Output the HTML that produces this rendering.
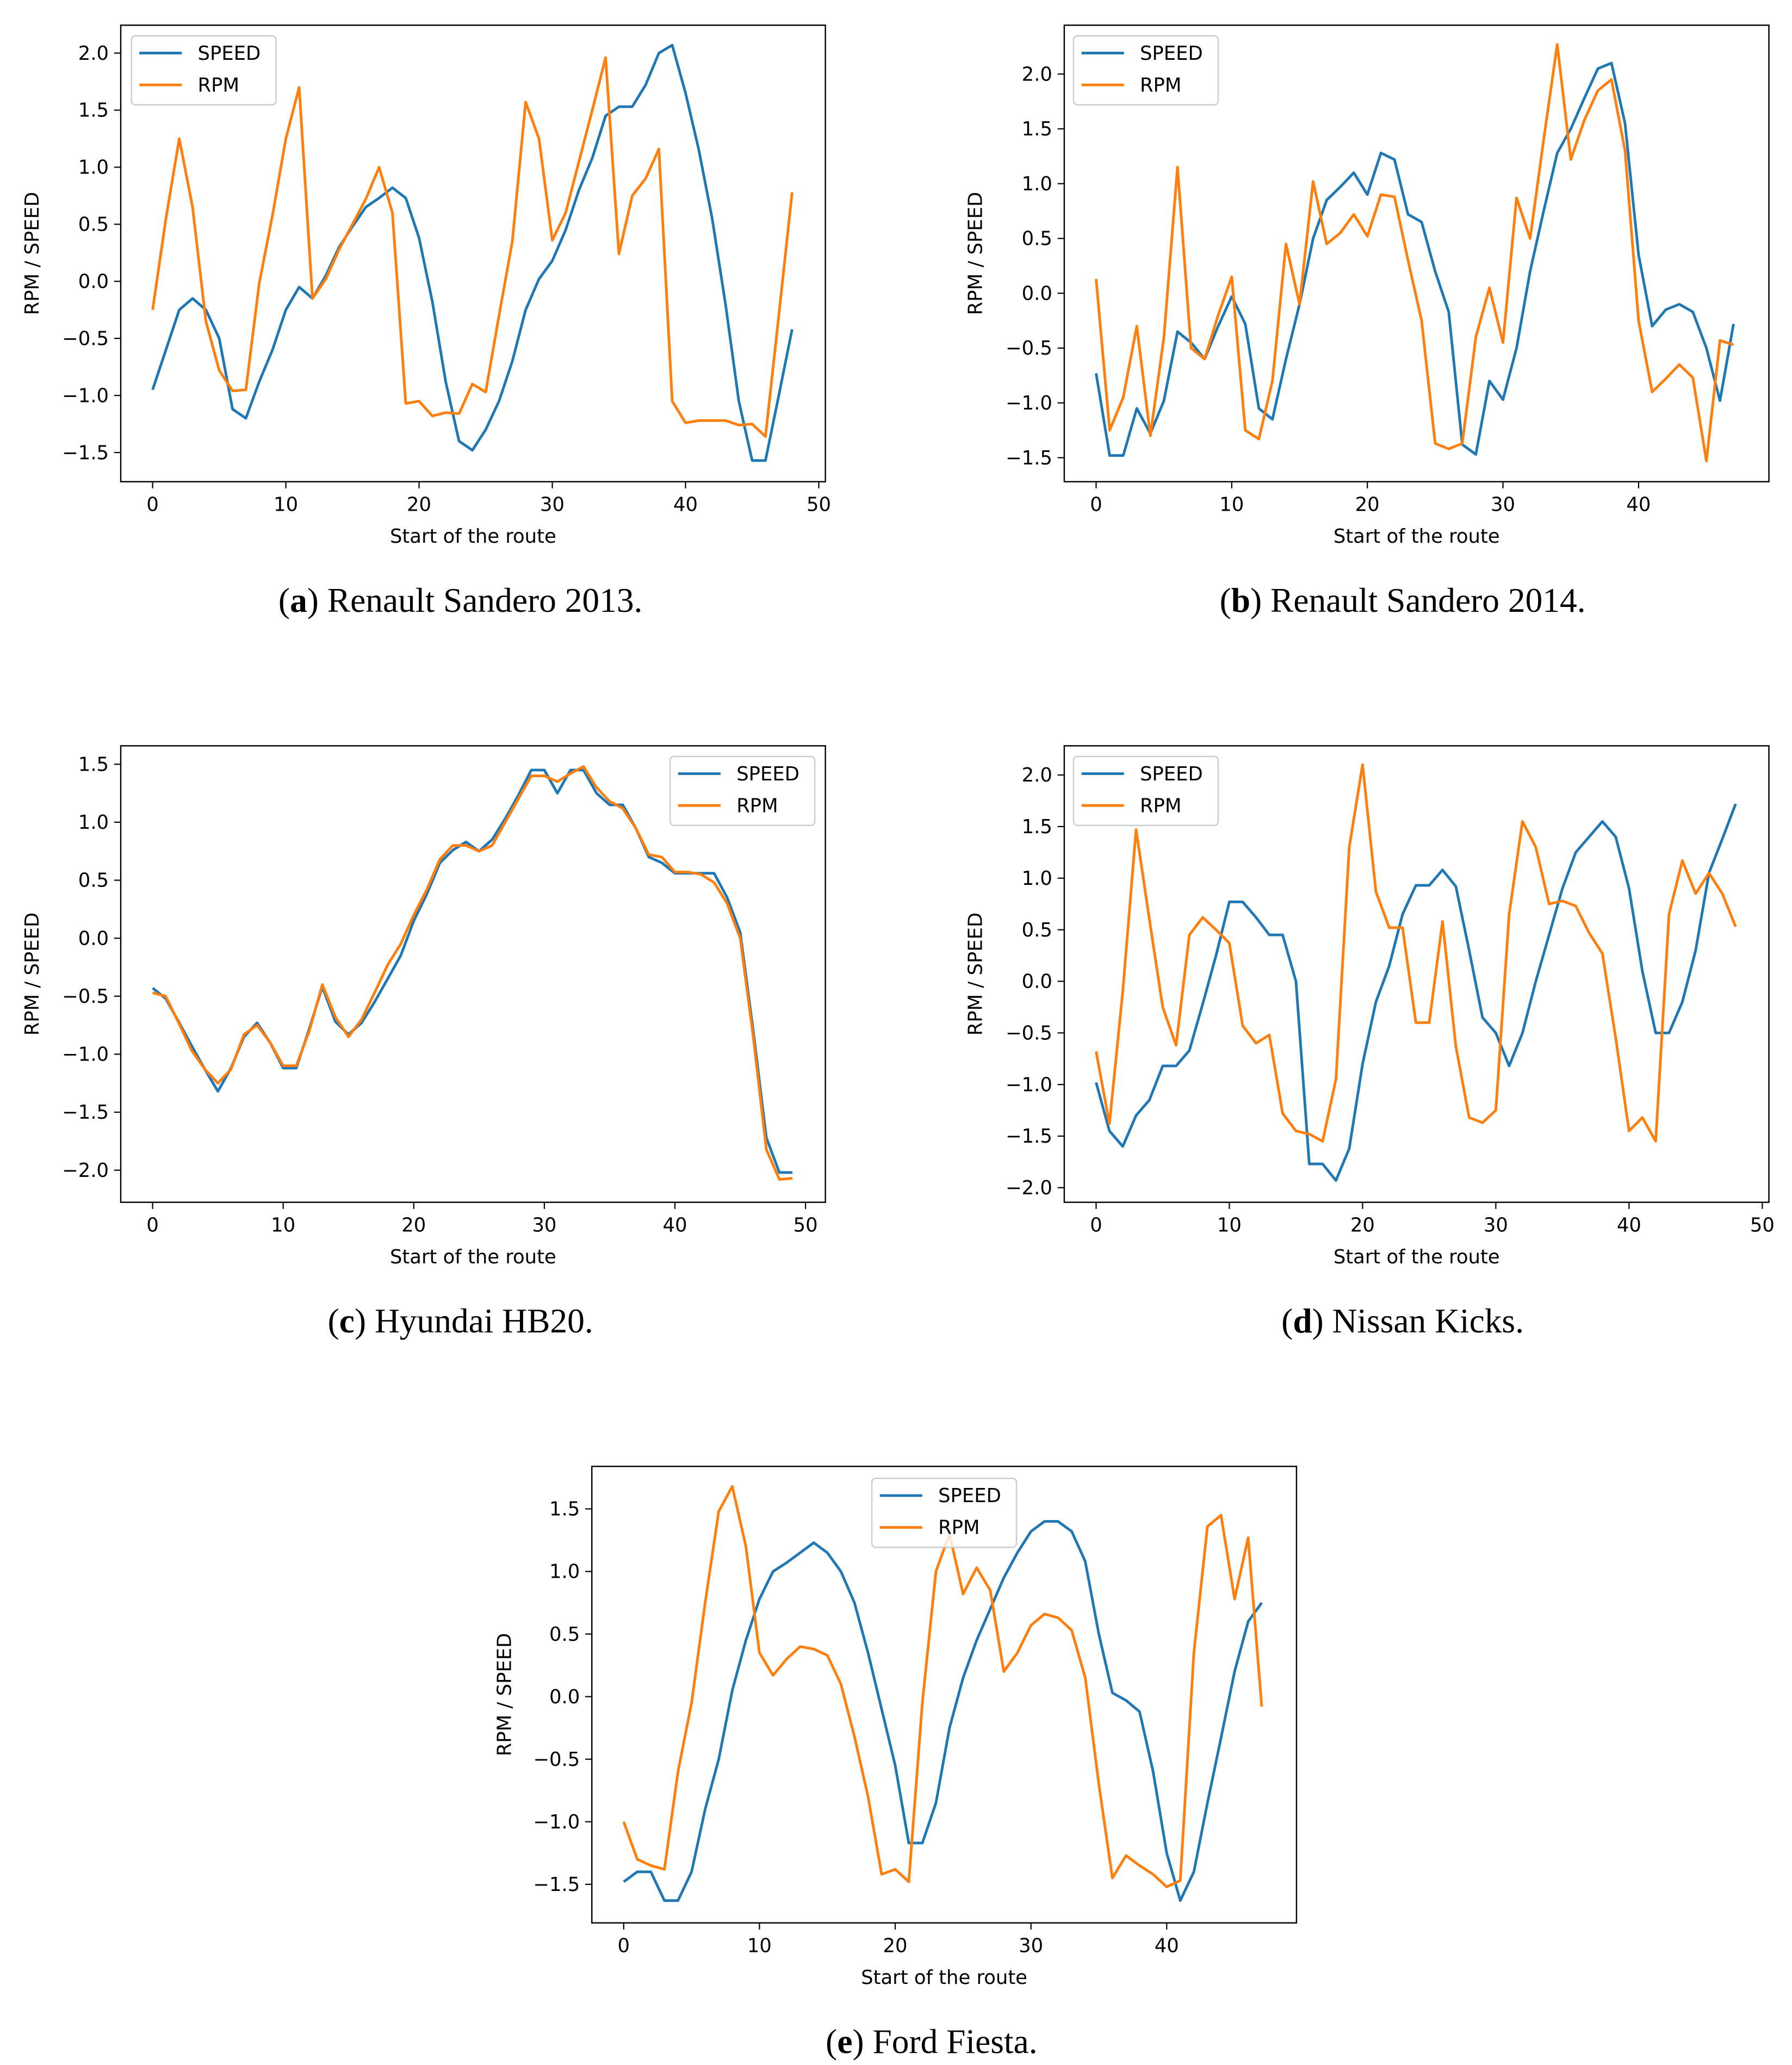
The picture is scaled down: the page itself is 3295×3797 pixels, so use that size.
<!DOCTYPE html>
<html><head><meta charset="utf-8">
<style>
html,body{margin:0;padding:0;background:#fff;}
svg{display:block;}
</style></head>
<body>
<svg id="fig" width="3295" height="3797" viewBox="0 0 1350.4 1556.1" preserveAspectRatio="none" xmlns="http://www.w3.org/2000/svg"></svg>
<script>
const aSpeed=[-0.95,-0.6,-0.25,-0.15,-0.25,-0.5,-1.12,-1.2,-0.88,-0.6,-0.25,-0.05,-0.15,0.05,0.3,0.48,0.65,0.73,0.82,0.73,0.38,-0.18,-0.88,-1.4,-1.48,-1.3,-1.05,-0.7,-0.25,0.02,0.18,0.45,0.8,1.08,1.45,1.53,1.53,1.72,2.0,2.07,1.65,1.15,0.55,-0.2,-1.05,-1.57,-1.57,-1.0,-0.42];
const aRpm=[-0.25,0.55,1.25,0.65,-0.35,-0.78,-0.96,-0.95,-0.02,0.58,1.25,1.7,-0.15,0.02,0.28,0.5,0.72,1.0,0.6,-1.07,-1.05,-1.18,-1.15,-1.16,-0.9,-0.97,-0.3,0.35,1.57,1.25,0.36,0.6,1.05,1.5,1.96,0.24,0.75,0.9,1.16,-1.05,-1.24,-1.22,-1.22,-1.22,-1.26,-1.25,-1.36,-0.3,0.78];
const bSpeed=[-0.73,-1.48,-1.48,-1.05,-1.28,-0.98,-0.35,-0.45,-0.6,-0.3,-0.03,-0.28,-1.05,-1.15,-0.6,-0.1,0.5,0.85,0.97,1.1,0.9,1.28,1.22,0.72,0.65,0.2,-0.17,-1.38,-1.47,-0.8,-0.97,-0.5,0.2,0.75,1.28,1.5,1.78,2.05,2.1,1.55,0.35,-0.3,-0.15,-0.1,-0.17,-0.5,-0.98,-0.28];
const bRpm=[0.13,-1.25,-0.95,-0.3,-1.3,-0.4,1.15,-0.5,-0.6,-0.2,0.15,-1.25,-1.33,-0.8,0.45,-0.1,1.02,0.45,0.55,0.72,0.52,0.9,0.88,0.3,-0.25,-1.37,-1.42,-1.37,-0.4,0.05,-0.45,0.87,0.5,1.4,2.27,1.22,1.58,1.85,1.95,1.3,-0.25,-0.9,-0.78,-0.65,-0.77,-1.53,-0.43,-0.47];
const cSpeed=[-0.43,-0.52,-0.72,-0.93,-1.13,-1.32,-1.12,-0.85,-0.73,-0.9,-1.12,-1.12,-0.78,-0.42,-0.72,-0.83,-0.73,-0.55,-0.35,-0.15,0.15,0.38,0.65,0.76,0.83,0.75,0.85,1.03,1.23,1.45,1.45,1.25,1.45,1.45,1.25,1.15,1.15,0.95,0.7,0.65,0.56,0.56,0.56,0.56,0.35,0.05,-0.8,-1.72,-2.02,-2.02];
const cRpm=[-0.47,-0.5,-0.73,-0.97,-1.13,-1.25,-1.13,-0.83,-0.75,-0.9,-1.1,-1.1,-0.8,-0.4,-0.68,-0.85,-0.7,-0.47,-0.23,-0.05,0.2,0.42,0.68,0.8,0.8,0.75,0.8,1.0,1.2,1.4,1.4,1.35,1.42,1.48,1.3,1.18,1.12,0.95,0.72,0.7,0.57,0.57,0.55,0.48,0.3,0.0,-0.85,-1.82,-2.08,-2.07];
const dSpeed=[-0.98,-1.45,-1.6,-1.3,-1.15,-0.82,-0.82,-0.67,-0.22,0.25,0.77,0.77,0.62,0.45,0.45,0.0,-1.77,-1.77,-1.93,-1.62,-0.8,-0.2,0.15,0.65,0.93,0.93,1.08,0.92,0.3,-0.35,-0.5,-0.82,-0.5,0.0,0.45,0.9,1.25,1.4,1.55,1.4,0.9,0.1,-0.5,-0.5,-0.2,0.3,1.05,1.38,1.72];
const dRpm=[-0.68,-1.38,-0.1,1.47,0.6,-0.25,-0.62,0.45,0.62,0.5,0.37,-0.43,-0.6,-0.52,-1.28,-1.45,-1.48,-1.55,-0.95,1.3,2.1,0.87,0.52,0.52,-0.4,-0.4,0.58,-0.63,-1.32,-1.37,-1.25,0.65,1.55,1.3,0.75,0.78,0.73,0.47,0.27,-0.55,-1.45,-1.32,-1.55,0.65,1.17,0.85,1.05,0.85,0.53];
const eSpeed=[-1.48,-1.4,-1.4,-1.63,-1.63,-1.4,-0.9,-0.5,0.05,0.45,0.78,1.0,1.07,1.15,1.23,1.15,1.0,0.75,0.35,-0.1,-0.55,-1.17,-1.17,-0.85,-0.25,0.15,0.45,0.7,0.95,1.15,1.32,1.4,1.4,1.32,1.08,0.5,0.03,-0.03,-0.12,-0.6,-1.25,-1.63,-1.4,-0.85,-0.33,0.2,0.6,0.75];
const eRpm=[-1.0,-1.3,-1.35,-1.38,-0.6,-0.05,0.75,1.48,1.68,1.2,0.35,0.17,0.3,0.4,0.38,0.33,0.1,-0.32,-0.8,-1.42,-1.38,-1.48,-0.05,1.0,1.3,0.82,1.03,0.85,0.2,0.35,0.57,0.66,0.63,0.53,0.15,-0.7,-1.45,-1.27,-1.35,-1.42,-1.52,-1.47,0.35,1.36,1.45,0.78,1.27,-0.08];
const xTicksA=[0,10,20,30,40,50];
const xTicksB=[0,10,20,30,40];
const yTicksA=[2.0,1.5,1.0,0.5,0.0,-0.5,-1.0,-1.5];
const yTicksC=[1.5,1.0,0.5,0.0,-0.5,-1.0,-1.5,-2.0];
const yTicksD=[2.0,1.5,1.0,0.5,0.0,-0.5,-1.0,-1.5,-2.0];
const yTicksE=[1.5,1.0,0.5,0.0,-0.5,-1.0,-1.5];

const NS='http://www.w3.org/2000/svg';
const svg=document.getElementById('fig');
function mk(tag,attrs,parent){const e=document.createElementNS(NS,tag);for(const k in attrs)e.setAttribute(k,attrs[k]);(parent||svg).appendChild(e);return e;}
const tickFont='"DejaVu Sans","Liberation Sans",sans-serif';

function panel(p){
  const g=mk('g',{});
  
  
  const xs=v=>p.x0px+(v)*p.xu;
  const ys=v=>p.y0px-v*p.yu;
  for(const t of p.xt){
    const x=xs(t);
    const tk=mk('line',{x1:x,x2:x,y1:p.box[3],y2:p.box[3]+5,stroke:'#000','stroke-width':0.9},g);
    
    const tx=mk('text',{x:x,y:p.box[3]+22,'text-anchor':'middle','font-size':14.5,'font-family':tickFont,fill:'#000'},g);
    tx.textContent=String(t);
    
  }
  for(const t of p.yt){
    const y=ys(t);
    const tk=mk('line',{x1:p.box[0]-5,x2:p.box[0],y1:y,y2:y,stroke:'#000','stroke-width':0.9},g);
    
    const tx=mk('text',{x:p.box[0]-9,y:y+5,'text-anchor':'end','font-size':14.5,'font-family':tickFont,fill:'#000'},g);
    tx.textContent=(t<0?'\u2212':'')+Math.abs(t).toFixed(1);
    
  }
  const series=[[p.speed,'#1f77b4','speed-line'],[p.rpm,'#ff7f0e','rpm-line']];
  for(const [d,c,n] of series){
    const pts=d.map((v,i)=>xs(i).toFixed(2)+','+ys(v).toFixed(2)).join(' ');
    const pl=mk('polyline',{points:pts,fill:'none',stroke:c,'stroke-width':2,'stroke-linejoin':'round'},g);
    
  }
  const fr=mk('rect',{x:p.box[0],y:p.box[1],width:p.box[2]-p.box[0],height:p.box[3]-p.box[1],fill:'none',stroke:'#000','stroke-width':1},g);
  
  // legend
  const [lx,ly]=p.leg;
  const lg=mk('g',{},g);
  
  mk('rect',{x:lx,y:ly,width:109,height:52,rx:3,fill:'#fff','fill-opacity':0.8,stroke:'#ccc','stroke-width':1},lg);
  const ents=[['SPEED','#1f77b4'],['RPM','#ff7f0e']];
  ents.forEach((e,i)=>{
    const yy=ly+13+i*24;
    const en=mk('g',{},lg);
    
    mk('line',{x1:lx+6,x2:lx+38,y1:yy,y2:yy,stroke:e[1],'stroke-width':2},en);
    const t=mk('text',{x:lx+50,y:yy+5,'font-size':14.5,'font-family':tickFont,fill:'#000'},en);
    t.textContent=e[0];
  });
  const xl=mk('text',{x:(p.box[0]+p.box[2])/2,y:p.box[3]+46,'text-anchor':'middle','font-size':14.5,'font-family':tickFont,fill:'#000'},g);
  xl.textContent='Start of the route';
  
  const cy=(p.box[1]+p.box[3])/2;
  const yl=mk('text',{x:p.ylx,y:cy,'text-anchor':'middle','font-size':14.5,'font-family':tickFont,fill:'#000',transform:`rotate(-90 ${p.ylx} ${cy})`},g);
  yl.textContent='RPM / SPEED';
  
  const cap=mk('text',{x:p.capx,y:p.capy,'text-anchor':'middle','font-size':26,'font-family':'"Liberation Serif",serif',fill:'#000'},g);
  cap.innerHTML='(<tspan font-weight="bold">'+p.id+'</tspan>) '+p.cap;
  
}

panel({id:'a',box:[91,19,622,363],x0px:115,xu:10.04,y0px:212,yu:86.0,xt:xTicksA,yt:yTicksA,speed:aSpeed,rpm:aRpm,leg:[99,27],ylx:29,capx:347,capy:461,cap:'Renault Sandero 2013.'});
panel({id:'b',box:[802,19,1333,363],x0px:826,xu:10.22,y0px:221,yu:82.6,xt:xTicksB,yt:yTicksA,speed:bSpeed,rpm:bRpm,leg:[809,27],ylx:740,capx:1057,capy:461,cap:'Renault Sandero 2014.'});
panel({id:'c',box:[91,562,622,906],x0px:115,xu:9.84,y0px:707,yu:87.4,xt:xTicksA,yt:yTicksC,speed:cSpeed,rpm:cRpm,leg:[505,570],ylx:29,capx:347,capy:1004,cap:'Hyundai HB20.'});
panel({id:'d',box:[802,562,1333,906],x0px:826,xu:10.04,y0px:739.5,yu:77.75,xt:xTicksA,yt:yTicksD,speed:dSpeed,rpm:dRpm,leg:[809,570],ylx:740,capx:1057,capy:1004,cap:'Nissan Kicks.'});
panel({id:'e',box:[446,1105,977,1449],x0px:470,xu:10.23,y0px:1278.5,yu:94.3,xt:xTicksB,yt:yTicksE,speed:eSpeed,rpm:eRpm,leg:[657,1114],ylx:385,capx:702,capy:1547,cap:'Ford Fiesta.'});
</script>
</body></html>
